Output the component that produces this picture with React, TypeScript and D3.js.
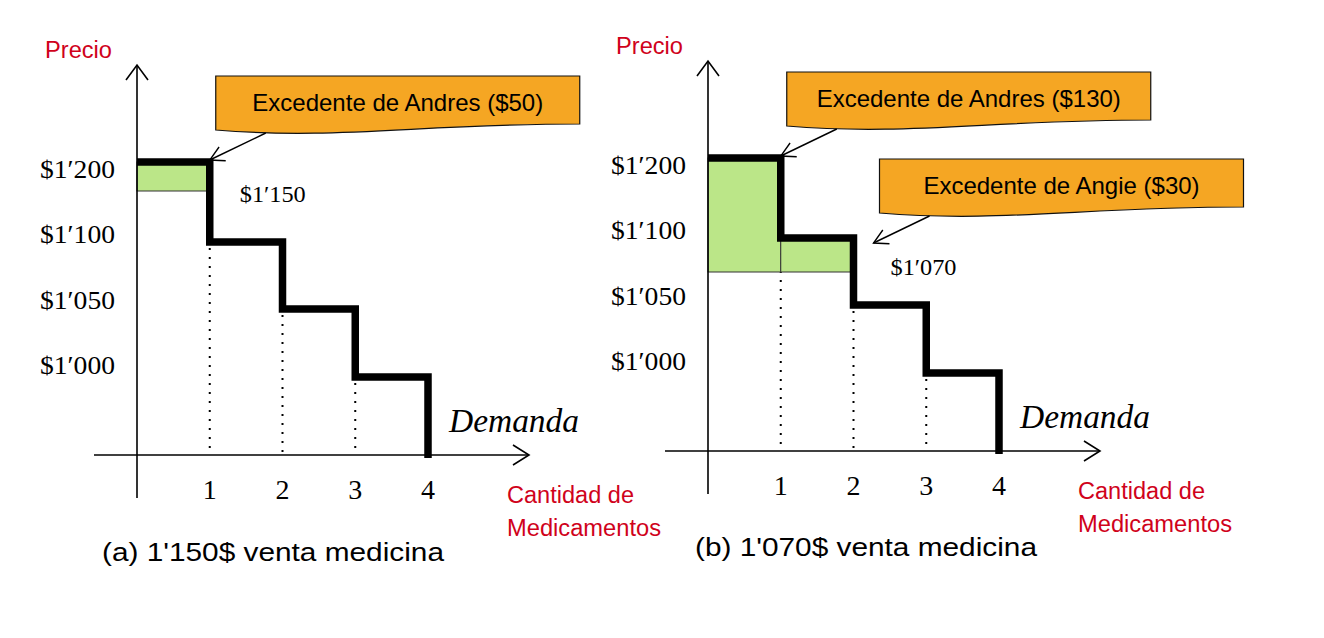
import React from "react";
import * as d3 from "d3";

// ---------------- data ----------------
const buyers = ["Andres", "Angie", "Comprador 3", "Comprador 4"];
const willingness = [1200, 1100, 1050, 1000];
const quantityTicks = [1, 2, 3, 4];
const priceTicks = ["$1′200", "$1′100", "$1′050", "$1′000"];
const marketPrices = [1150, 1070];
const marketPriceLabels = ["$1′150", "$1′070"];
const captions = ["(a) 1'150$ venta medicina", "(b) 1'070$ venta medicina"];
const priceLevels = [1000, 1050, 1070, 1100, 1150, 1200];

// ---------------- layout ----------------
const W = 1324;
const H = 638;
const RED = "#D0021B";
const ORANGE = "#F5A623";
const GREEN = "#BBE688";
const SANS = "'Liberation Sans', Arial, sans-serif";
const SERIF = "'Liberation Serif', 'Times New Roman', serif";

const panels = [
  { ox: 137, oy: 455, capCx: 273, capBase: 561, lblDx: 30, lblDy: 11 },
  { ox: 708, oy: 451, capCx: 866, capBase: 556, lblDx: 37, lblDy: 3 },
];
// schematic (non-uniform) price axis: px above the quantity axis for each price level
const priceLevelOffsets = [-78, -146, -179, -213, -264, -293];
const unitWidth = 72.75;
const tipDx = [0, 20];
const tipDy = [-2, 5];

function arrowHead(tx: number, ty: number, sx: number, sy: number, len: number, spread: number) {
  const ang = Math.atan2(ty - sy, tx - sx);
  const a1 = ang + Math.PI - spread;
  const a2 = ang + Math.PI + spread;
  return `M${tx + len * Math.cos(a1)},${ty + len * Math.sin(a1)} L${tx},${ty} L${tx + len * Math.cos(a2)},${ty + len * Math.sin(a2)}`;
}

function Callout({ tx, ty, text }: { tx: number; ty: number; text: string }) {
  const L = tx + 6;
  const T = ty - 84;
  const R = L + 364;
  const d = `M${L},${T} H${R} V${T + 48} C${R - 160},${T + 48} ${L + 120},${T + 64} ${L},${T + 54} Z`;
  const sx = L + 50;
  const sy = T + 57;
  return (
    <g>
      <path d={d} fill={ORANGE} stroke="#111" strokeWidth={1.2} />
      <text x={(L + R) / 2} y={T + 35} textAnchor="middle" fontFamily={SANS} fontSize={24} fill="#000">
        {text}
      </text>
      <line x1={sx} y1={sy} x2={tx} y2={ty} stroke="#000" strokeWidth={1.4} />
      <path d={arrowHead(tx, ty, sx, sy, 16, 0.5)} fill="none" stroke="#000" strokeWidth={1.4} />
    </g>
  );
}

function Panel({ idx }: { idx: number }) {
  const p = panels[idx];
  const price = marketPrices[idx];
  const x = d3.scaleLinear().domain([0, 4]).range([p.ox, p.ox + 4 * unitWidth]);
  const y = d3
    .scaleLinear()
    .domain(priceLevels)
    .range(priceLevelOffsets.map((o) => p.oy + o));
  const yTick = d3.scalePoint<string>().domain(priceTicks).range([p.oy - 277, p.oy - 81]);

  type Pt = { q: number; v: number | null };
  const stepData: Pt[] = [
    ...willingness.map((w, i) => ({ q: i, v: w })),
    { q: willingness.length, v: null },
  ];
  const stepLine = d3
    .line<Pt>()
    .x((d) => x(d.q))
    .y((d) => (d.v == null ? p.oy + 3 : y(d.v)))
    .curve(d3.curveStepAfter);

  const buying = willingness
    .map((w, i) => ({ w, i }))
    .filter((d) => d.w > price);
  const nBuy = buying.length;

  const xAxisL = p.ox - 43;
  const xAxisR = x(4) + 101;
  const yAxisTop = p.oy - 390;
  const yAxisBot = p.oy + 43;

  return (
    <g>
      {/* dotted guides */}
      {quantityTicks.slice(0, 3).map((q) => (
        <line
          key={"dot" + q}
          x1={x(q)}
          x2={x(q)}
          y1={y(willingness[q]) + 6}
          y2={p.oy}
          stroke="#000"
          strokeWidth={2}
          strokeDasharray="2 7"
        />
      ))}
      {/* consumer surplus areas */}
      {buying.map((d) => (
        <rect
          key={"cs" + d.i}
          x={x(d.i)}
          y={y(d.w)}
          width={x(d.i + 1) - x(d.i)}
          height={y(price) - y(d.w)}
          fill={GREEN}
          stroke="#333"
          strokeWidth={1}
        />
      ))}
      {/* axes */}
      <line x1={xAxisL} x2={xAxisR} y1={p.oy} y2={p.oy} stroke="#000" strokeWidth={1.6} />
      <path d={`M${xAxisR - 16},${p.oy - 10} L${xAxisR},${p.oy} L${xAxisR - 16},${p.oy + 10}`} fill="none" stroke="#000" strokeWidth={1.6} />
      <line x1={p.ox} x2={p.ox} y1={yAxisBot} y2={yAxisTop} stroke="#000" strokeWidth={1.6} />
      <path d={`M${p.ox - 11},${yAxisTop + 15} L${p.ox},${yAxisTop} L${p.ox + 11},${yAxisTop + 15}`} fill="none" stroke="#000" strokeWidth={1.6} />
      {/* demand step curve */}
      <path d={stepLine(stepData) || ""} fill="none" stroke="#000" strokeWidth={7.5} strokeLinejoin="miter" />
      {/* y tick labels */}
      {priceTicks.map((t) => (
        <text
          key={t}
          x={p.ox - 22}
          y={yTick(t)}
          textAnchor="end"
          fontFamily={SERIF}
          fontSize={26}
          textLength={75}
          lengthAdjust="spacingAndGlyphs"
        >
          {t}
        </text>
      ))}
      {/* x tick labels */}
      {quantityTicks.map((q) => (
        <text key={"q" + q} x={x(q)} y={p.oy + 44} textAnchor="middle" fontFamily={SERIF} fontSize={28}>
          {q}
        </text>
      ))}
      {/* axis titles */}
      <text x={p.ox - 92} y={yAxisTop - 7} fontFamily={SANS} fontSize={23} fill={RED} textLength={67} lengthAdjust="spacingAndGlyphs">
        Precio
      </text>
      <text x={x(4) + 79} y={p.oy + 48} fontFamily={SANS} fontSize={23.5} fill={RED} textLength={127} lengthAdjust="spacingAndGlyphs">
        Cantidad de
      </text>
      <text x={x(4) + 79} y={p.oy + 81} fontFamily={SANS} fontSize={23.5} fill={RED} textLength={154} lengthAdjust="spacingAndGlyphs">
        Medicamentos
      </text>
      <text x={x(4) + 21} y={p.oy - 23} fontFamily={SERIF} fontStyle="italic" fontSize={34} textLength={130} lengthAdjust="spacingAndGlyphs">
        Demanda
      </text>
      {/* market price label */}
      <text
        x={x(nBuy) + p.lblDx}
        y={y(price) + p.lblDy}
        fontFamily={SERIF}
        fontSize={24}
        textLength={66}
        lengthAdjust="spacingAndGlyphs"
      >
        {marketPriceLabels[idx]}
      </text>
      {/* surplus callouts */}
      {buying.map((d) => (
        <Callout
          key={"co" + d.i}
          tx={x(d.i + 1) + tipDx[d.i]}
          ty={y(d.w) + tipDy[d.i]}
          text={`Excedente de ${buyers[d.i]} ($${d.w - price})`}
        />
      ))}
      {/* caption */}
      <text
        x={p.capCx}
        y={p.capBase}
        textAnchor="middle"
        fontFamily={SANS}
        fontSize={26}
        textLength={342}
        lengthAdjust="spacingAndGlyphs"
      >
        {captions[idx]}
      </text>
    </g>
  );
}

export default function App() {
  return (
    <svg
      width={W}
      height={H}
      viewBox={`0 0 ${W} ${H}`}
      style={{ position: "absolute", left: 0, top: 0, background: "#fff" }}
    >
      <rect x={0} y={0} width={W} height={H} fill="#fff" />
      {panels.map((_, i) => (
        <Panel key={i} idx={i} />
      ))}
    </svg>
  );
}
